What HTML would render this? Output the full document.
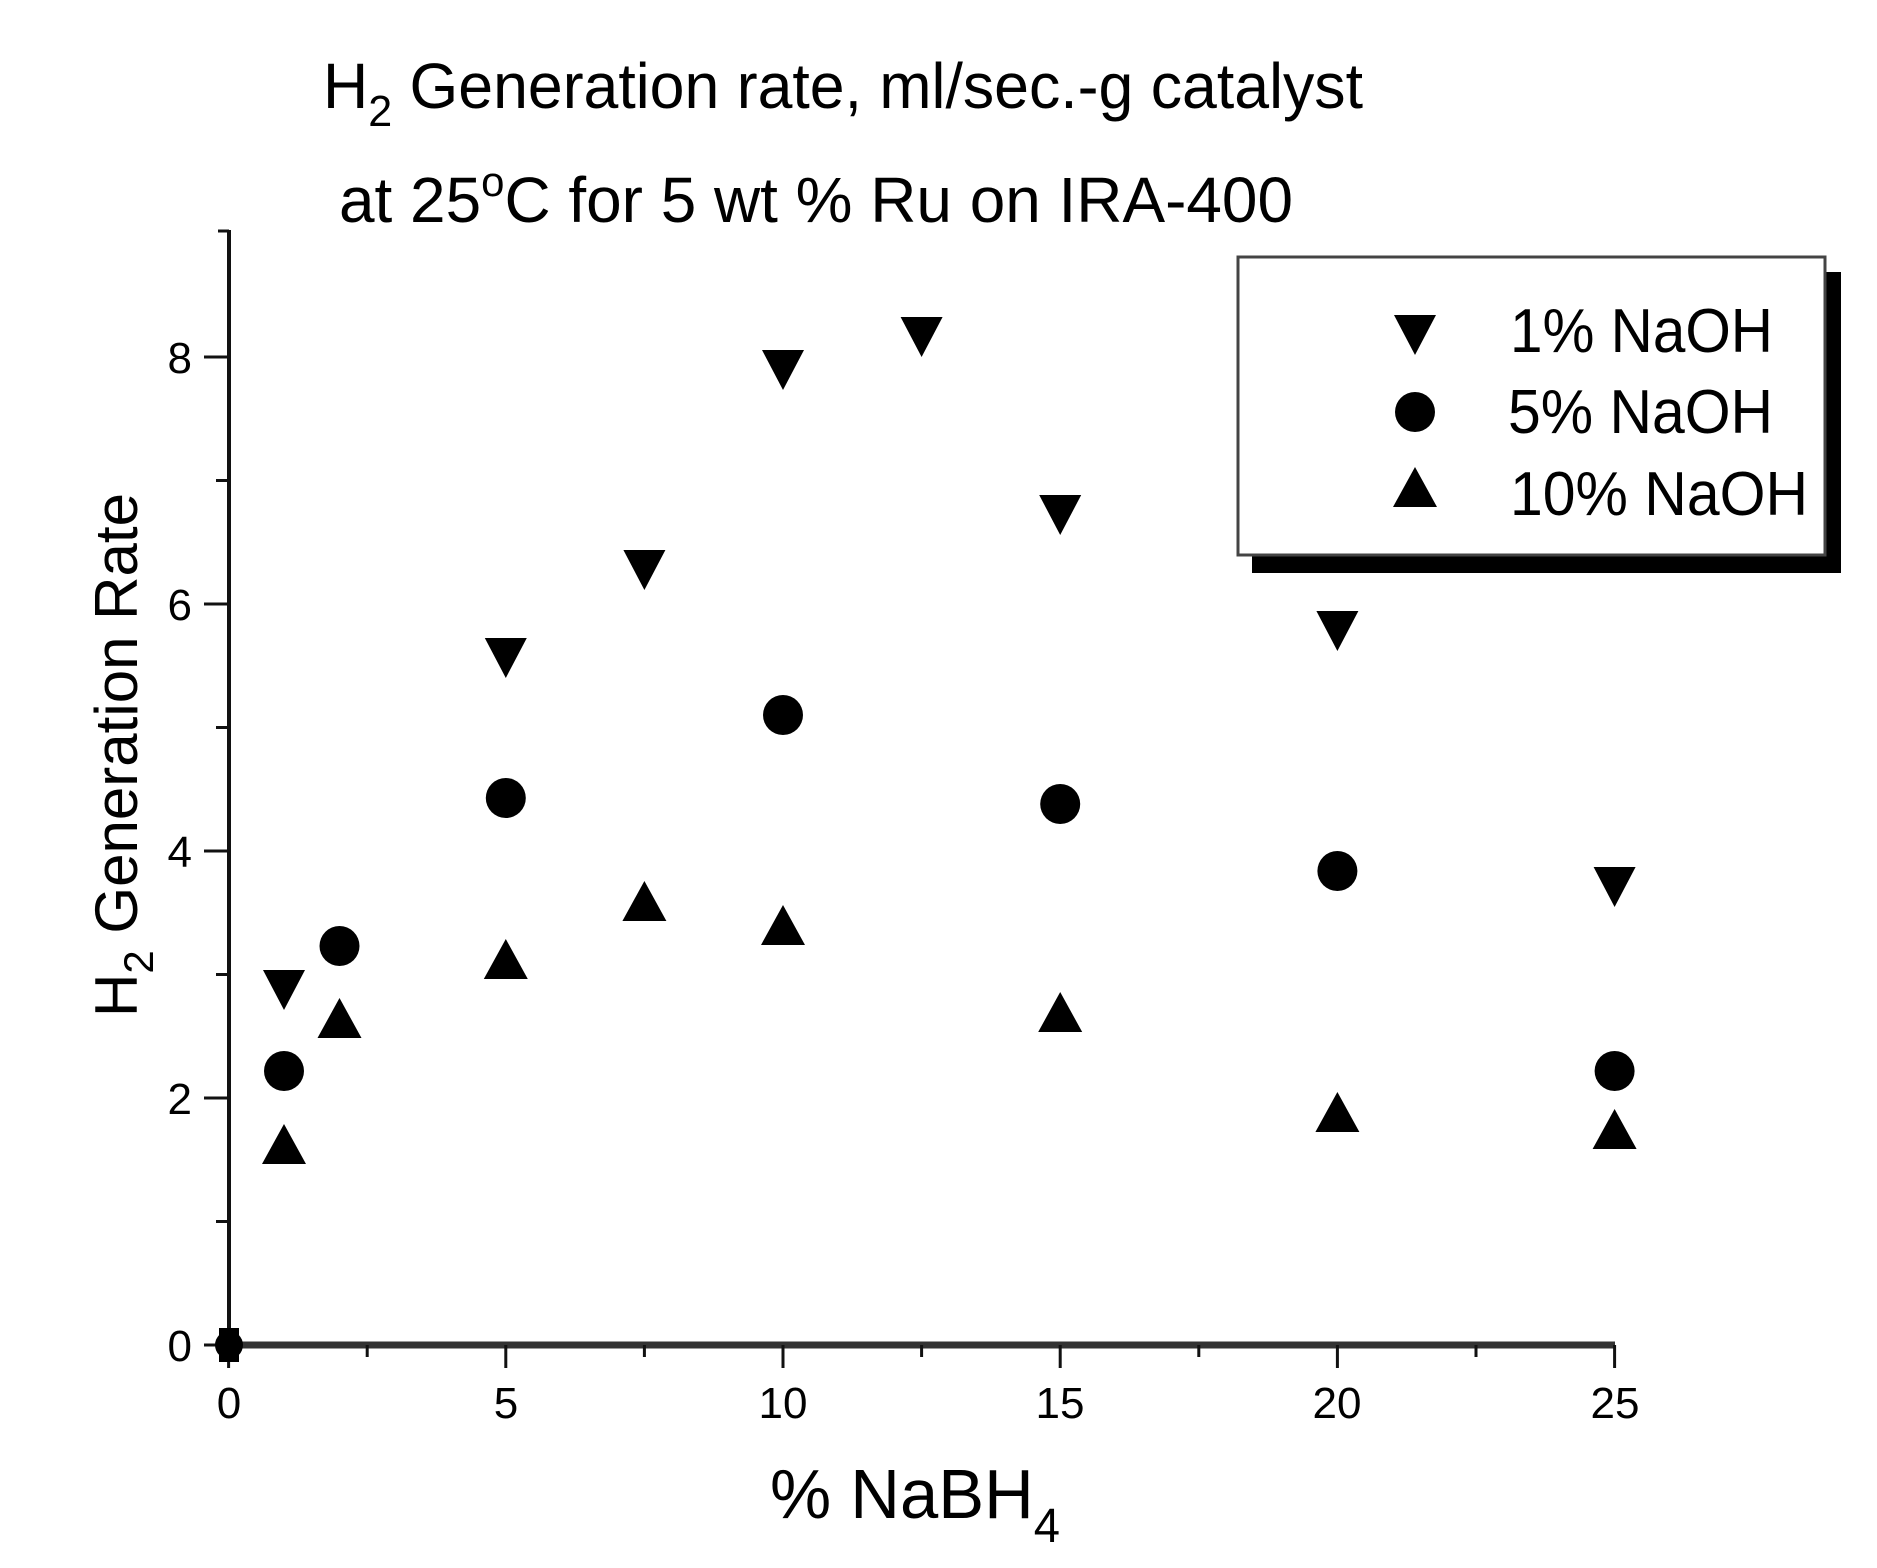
<!DOCTYPE html>
<html><head><meta charset="utf-8"><style>html,body{margin:0;padding:0;background:#fff}svg{display:block}</style></head>
<body>
<svg xmlns="http://www.w3.org/2000/svg" width="1877" height="1568" viewBox="0 0 1877 1568" font-family="'Liberation Sans Narrow','Liberation Sans',sans-serif">
<defs>
<path id="dn" d="M-21,-19 L21,-19 L0,21 Z" fill="#000"/>
<path id="up" d="M-22,19 L22,19 L0,-21 Z" fill="#000"/>
<circle id="ci" r="20" fill="#000"/>
</defs>
<rect width="1877" height="1568" fill="#fff"/>
<!-- title -->
<text x="323" y="108" font-size="64" textLength="1040" lengthAdjust="spacingAndGlyphs">H<tspan font-size="44" dy="18">2</tspan><tspan dy="-18"> Generation rate, ml/sec.-g catalyst</tspan></text>
<text x="339" y="222" font-size="64" textLength="954" lengthAdjust="spacingAndGlyphs">at  25<tspan font-size="42" dy="-26">o</tspan><tspan dy="26">C for 5 wt % Ru on IRA-400</tspan></text>
<!-- axes -->
<g stroke="#111" fill="none">
<line x1="229" y1="230" x2="229" y2="1348" stroke-width="4"/>
<line x1="218" y1="231" x2="229" y2="231" stroke-width="3"/>
<line x1="227" y1="1345" x2="1615" y2="1345" stroke-width="7" stroke="#333"/>
<g stroke-width="3">
<line x1="228.6" y1="1345" x2="228.6" y2="1368"/>
<line x1="505.8" y1="1345" x2="505.8" y2="1368"/>
<line x1="783" y1="1345" x2="783" y2="1368"/>
<line x1="1060.2" y1="1345" x2="1060.2" y2="1368"/>
<line x1="1337.4" y1="1345" x2="1337.4" y2="1368"/>
<line x1="1614.6" y1="1345" x2="1614.6" y2="1368"/>
<line x1="367.2" y1="1345" x2="367.2" y2="1357"/>
<line x1="644.4" y1="1345" x2="644.4" y2="1357"/>
<line x1="921.6" y1="1345" x2="921.6" y2="1357"/>
<line x1="1198.8" y1="1345" x2="1198.8" y2="1357"/>
<line x1="1476" y1="1345" x2="1476" y2="1357"/>
<line x1="204" y1="1345" x2="229" y2="1345"/>
<line x1="204" y1="1098" x2="229" y2="1098"/>
<line x1="204" y1="851" x2="229" y2="851"/>
<line x1="204" y1="604" x2="229" y2="604"/>
<line x1="204" y1="357" x2="229" y2="357"/>
<line x1="216" y1="1221.5" x2="229" y2="1221.5"/>
<line x1="216" y1="974.5" x2="229" y2="974.5"/>
<line x1="216" y1="727.5" x2="229" y2="727.5"/>
<line x1="216" y1="480.5" x2="229" y2="480.5"/>
</g></g>
<!-- tick labels -->
<g font-size="44" text-anchor="middle">
<text x="229" y="1418">0</text><text x="506" y="1418">5</text><text x="783" y="1418">10</text>
<text x="1060" y="1418">15</text><text x="1337" y="1418">20</text><text x="1615" y="1418">25</text>
</g>
<g font-size="44" text-anchor="end">
<text x="192" y="1361">0</text><text x="192" y="1114">2</text><text x="192" y="867">4</text>
<text x="192" y="620">6</text><text x="192" y="373">8</text>
</g>
<!-- axis labels -->
<text x="770" y="1518" font-size="70" textLength="290" lengthAdjust="spacingAndGlyphs">% NaBH<tspan font-size="48" dy="24">4</tspan></text>
<text transform="translate(137,1017) rotate(-90)" font-size="60" textLength="524" lengthAdjust="spacingAndGlyphs">H<tspan font-size="42" dy="16">2</tspan><tspan dy="-16"> Generation Rate</tspan></text>
<!-- origin blob -->
<circle cx="229" cy="1345" r="14" fill="#000"/>
<rect x="219" y="1328" width="20" height="34" fill="#000"/>
<!-- 1% NaOH -->
<use href="#dn" x="284" y="989"/><use href="#dn" x="505.8" y="657"/><use href="#dn" x="644.4" y="569"/>
<use href="#dn" x="783" y="369"/><use href="#dn" x="921.6" y="336"/><use href="#dn" x="1060.2" y="514"/>
<use href="#dn" x="1337.4" y="630"/><use href="#dn" x="1614.6" y="886"/>
<!-- 5% NaOH -->
<use href="#ci" x="284" y="1071"/><use href="#ci" x="339.5" y="946"/><use href="#ci" x="505.8" y="798"/>
<use href="#ci" x="783" y="715"/><use href="#ci" x="1060.2" y="804"/><use href="#ci" x="1337.4" y="871"/>
<use href="#ci" x="1614.6" y="1071"/>
<!-- 10% NaOH -->
<use href="#up" x="284" y="1145"/><use href="#up" x="339.5" y="1019"/><use href="#up" x="505.8" y="960"/>
<use href="#up" x="644.4" y="902"/><use href="#up" x="783" y="926"/><use href="#up" x="1060.2" y="1013"/>
<use href="#up" x="1337.4" y="1113"/><use href="#up" x="1614.6" y="1130"/>
<!-- legend -->
<rect x="1252" y="272" width="589" height="301" fill="#000"/>
<rect x="1238" y="257" width="587" height="298" fill="#fff" stroke="#444" stroke-width="3"/>
<use href="#dn" x="1415" y="334"/>
<use href="#ci" x="1415" y="412"/>
<use href="#up" x="1415" y="488"/>
<g font-size="62">
<text x="1510" y="352" textLength="263" lengthAdjust="spacingAndGlyphs">1% NaOH</text>
<text x="1508" y="433" textLength="265" lengthAdjust="spacingAndGlyphs">5% NaOH</text>
<text x="1510" y="515" textLength="298" lengthAdjust="spacingAndGlyphs">10% NaOH</text>
</g>
</svg>
</body></html>
